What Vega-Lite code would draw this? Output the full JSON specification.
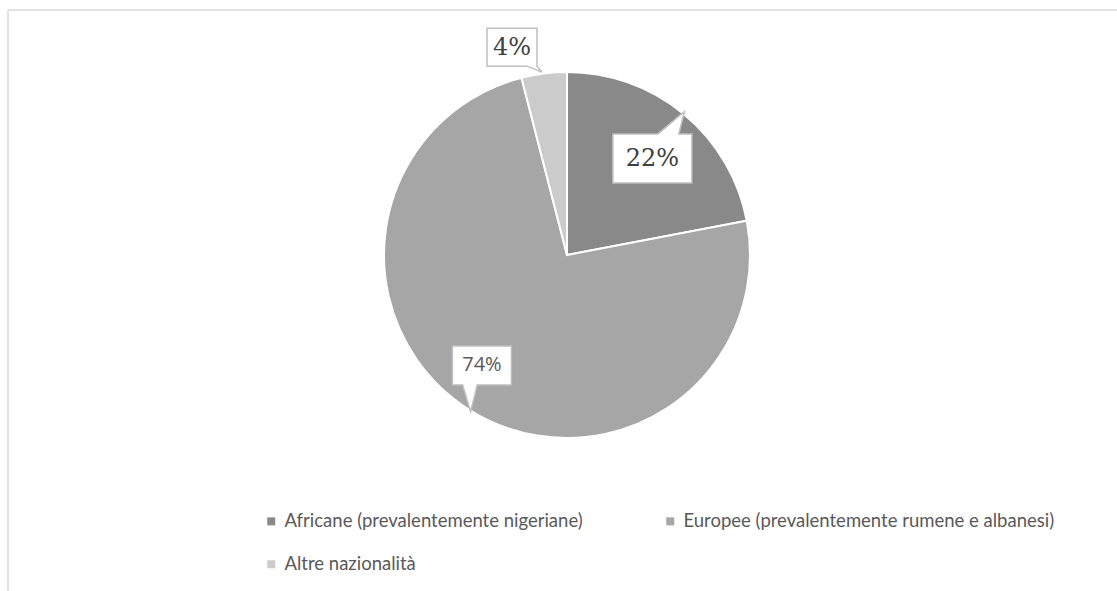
{
  "$schema": "https://vega.github.io/schema/vega-lite/v6.json",
  "width": 1100,
  "height": 490,
  "autosize": {"type": "none"},
  "padding": {"left": 17, "top": 10, "right": 0, "bottom": 91},
  "background": "white",
  "config": {"view": {"stroke": null}},
  "data": {
    "values": [
      {"cat": "Africane (prevalentemente nigeriane)", "value": 22, "label": "22%"},
      {"cat": "Europee (prevalentemente rumene e albanesi)", "value": 74, "label": "74%"},
      {"cat": "Altre nazionalità", "value": 4, "label": "4%"}
    ]
  },
  "transform": [
    {"window": [{"op": "sum", "field": "value", "as": "cum"}]},
    {"joinaggregate": [{"op": "sum", "field": "value", "as": "total"}]},
    {"calculate": "2*PI*(datum.cum - datum.value/2)/datum.total", "as": "ang"}
  ],
  "layer": [
    {
      "mark": {"type": "arc", "outerRadius": 183, "stroke": "white", "strokeWidth": 2},
      "encoding": {
        "theta": {"field": "value", "type": "quantitative", "stack": true},
        "order": {"field": "cum", "type": "quantitative"},
        "color": {
          "field": "cat",
          "type": "nominal",
          "scale": {
            "domain": ["Africane (prevalentemente nigeriane)", "Europee (prevalentemente rumene e albanesi)", "Altre nazionalità"],
            "range": ["#898989", "#a6a6a6", "#cbcbcb"]
          },
          "legend": {
            "orient": "none",
            "direction": "horizontal",
            "legendX": 245,
            "legendY": 502,
            "columns": 2,
            "title": null,
            "symbolType": "square",
            "symbolSize": 64,
            "symbolStrokeWidth": 0,
            "labelFont": "Lato",
            "labelFontSize": 18.5,
            "labelColor": "#595959",
            "labelOffset": 4,
            "labelLimit": 0,
            "columnPadding": 78,
            "rowPadding": 24,
            "padding": 0
          }
        }
      }
    },
    {
      "data": {"values": [{"x0": -559, "x1": 550, "y0": -245, "y1": 336}]},
      "transform": [],
      "layer": [
        {
          "mark": {"type": "rule", "color": "#d9d9d9", "strokeWidth": 1.5},
          "encoding": {
            "x": {"field": "x0", "type": "quantitative", "scale": {"domain": [-550, 550], "nice": false, "zero": false}, "axis": null},
            "x2": {"field": "x1"},
            "y": {"field": "y0", "type": "quantitative", "scale": {"domain": [-245, 245], "reverse": true, "nice": false, "zero": false}, "axis": null}
          }
        },
        {
          "mark": {"type": "rule", "color": "#d9d9d9", "strokeWidth": 1.5},
          "encoding": {
            "x": {"field": "x0", "type": "quantitative", "axis": null},
            "y": {"field": "y0", "type": "quantitative", "axis": null},
            "y2": {"field": "y1"}
          }
        }
      ]
    },
    {
      "transform": [
        {"filter": "datum.label === '22%'"},
        {"calculate": "128.9*sin(datum.ang + 0.033)", "as": "lx"},
        {"calculate": "-128.9*cos(datum.ang + 0.033)", "as": "ly"}
      ],
      "encoding": {
        "x": {"field": "lx", "type": "quantitative", "axis": null},
        "y": {"field": "ly", "type": "quantitative", "axis": null}
      },
      "layer": [
        {
          "mark": {"type": "point", "shape": "M-0.79,-0.49L0.11,-0.49L0.64,-0.94L0.53,-0.49L0.79,-0.49L0.79,0.49L-0.79,0.49Z", "size": 10000, "filled": true, "fill": "white", "stroke": "#bfbfbf", "strokeWidth": 1.5, "opacity": 1}
        },
        {
          "mark": {"type": "text", "font": "DejaVu Serif", "fontSize": 24, "color": "#404040", "align": "center", "baseline": "middle", "dy": 1},
          "encoding": {"text": {"field": "label"}}
        }
      ]
    },
    {
      "transform": [
        {"filter": "datum.label === '74%'"},
        {"calculate": "139.4*sin(datum.ang + 0.091)", "as": "lx"},
        {"calculate": "-139.4*cos(datum.ang + 0.091)", "as": "ly"}
      ],
      "encoding": {
        "x": {"field": "lx", "type": "quantitative", "axis": null},
        "y": {"field": "ly", "type": "quantitative", "axis": null}
      },
      "layer": [
        {
          "mark": {"type": "point", "shape": "M-0.59,-0.39L0.59,-0.39L0.59,0.39L-0.094,0.39L-0.226,0.924L-0.386,0.39L-0.59,0.39Z", "size": 10000, "filled": true, "fill": "white", "stroke": "#bfbfbf", "strokeWidth": 1.5, "opacity": 1}
        },
        {
          "mark": {"type": "text", "font": "Open Sans", "fontSize": 20, "color": "#595959", "align": "center", "baseline": "middle", "dy": 0},
          "encoding": {"text": {"field": "label"}}
        }
      ]
    },
    {
      "transform": [
        {"filter": "datum.label === '4%'"},
        {"calculate": "215*sin(datum.ang - 0.133)", "as": "lx"},
        {"calculate": "-215*cos(datum.ang - 0.133)", "as": "ly"}
      ],
      "encoding": {
        "x": {"field": "lx", "type": "quantitative", "axis": null},
        "y": {"field": "ly", "type": "quantitative", "axis": null}
      },
      "layer": [
        {
          "mark": {"type": "point", "shape": "M-0.5,-0.38L0.5,-0.38L0.5,0.38L0.6,0.5L0.3,0.38L-0.5,0.38Z", "size": 10000, "filled": true, "fill": "white", "stroke": "#bfbfbf", "strokeWidth": 1.5, "opacity": 1}
        },
        {
          "mark": {"type": "text", "font": "DejaVu Serif", "fontSize": 24, "color": "#404040", "align": "center", "baseline": "middle", "dy": 1},
          "encoding": {"text": {"field": "label"}}
        }
      ]
    }
  ]
}
